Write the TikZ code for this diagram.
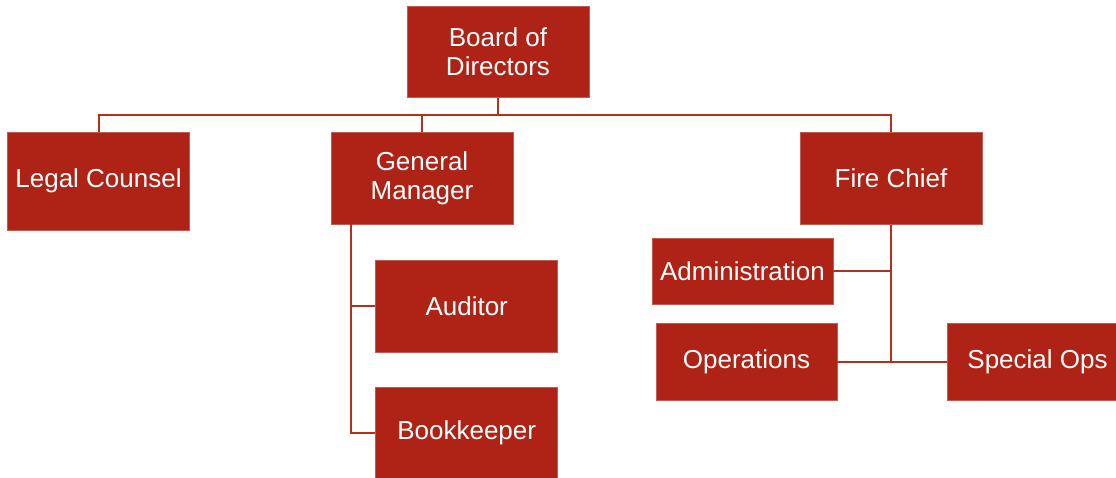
\documentclass[tikz,border=0pt]{standalone}
\usepackage{fontspec}
\setmainfont{Liberation Sans}
\definecolor{boxred}{HTML}{AE2315}
\definecolor{linered}{HTML}{B3301F}
\begin{document}
\begin{tikzpicture}[x=1pt,y=-1pt,
  orgbox/.style={rectangle, fill=boxred, draw=boxred!75!white, line width=0.6pt,
    inner sep=0pt, text=white, align=center,
    font=\fontsize{26}{29}\selectfont},
  conn/.style={draw=linered, line width=2pt}]
\useasboundingbox (0,0) rectangle (1116,478);
\node[orgbox, minimum width=182pt, minimum height=91pt] (board) at (498,52) {Board of\\Directors};
\node[orgbox, minimum width=182pt, minimum height=98pt] (legal) at (98.5,181) {Legal Counsel};
\node[orgbox, minimum width=182pt, minimum height=92pt] (gm) at (422,178.5) {General\\Manager};
\node[orgbox, minimum width=182pt, minimum height=92pt] (fire) at (891,178.5) {Fire Chief};
\node[orgbox, minimum width=181pt, minimum height=66pt] (adm) at (742.5,271) {Administration};
\node[orgbox, minimum width=181pt, minimum height=77pt] (ops) at (746.5,362) {Operations};
\node[orgbox, minimum width=181pt, minimum height=77pt] (spec) at (1037.5,362) {Special Ops};
\node[orgbox, minimum width=182pt, minimum height=92pt] (aud) at (466.7,306) {Auditor};
\node[orgbox, minimum width=182pt, minimum height=92pt] (book) at (466.7,433) {Bookkeeper};
\coordinate (bus) at (498,115);
\coordinate (gmv) at (350.7,224);
\path[conn] (board.south) -- (bus);
\path[conn] (bus) -| (legal.north);
\path[conn] (bus) -| (gm.north);
\path[conn] (bus) -| (fire.north);
\path[conn] (gmv) |- (book.west);
\path[conn] (gmv |- aud.west) -- (aud.west);
\path[conn] (fire.south) |- (spec.west);
\path[conn] (ops.east) -- (ops.east -| fire.south);
\path[conn] (adm.east) -- (adm.east -| fire.south);
\end{tikzpicture}
\end{document}
